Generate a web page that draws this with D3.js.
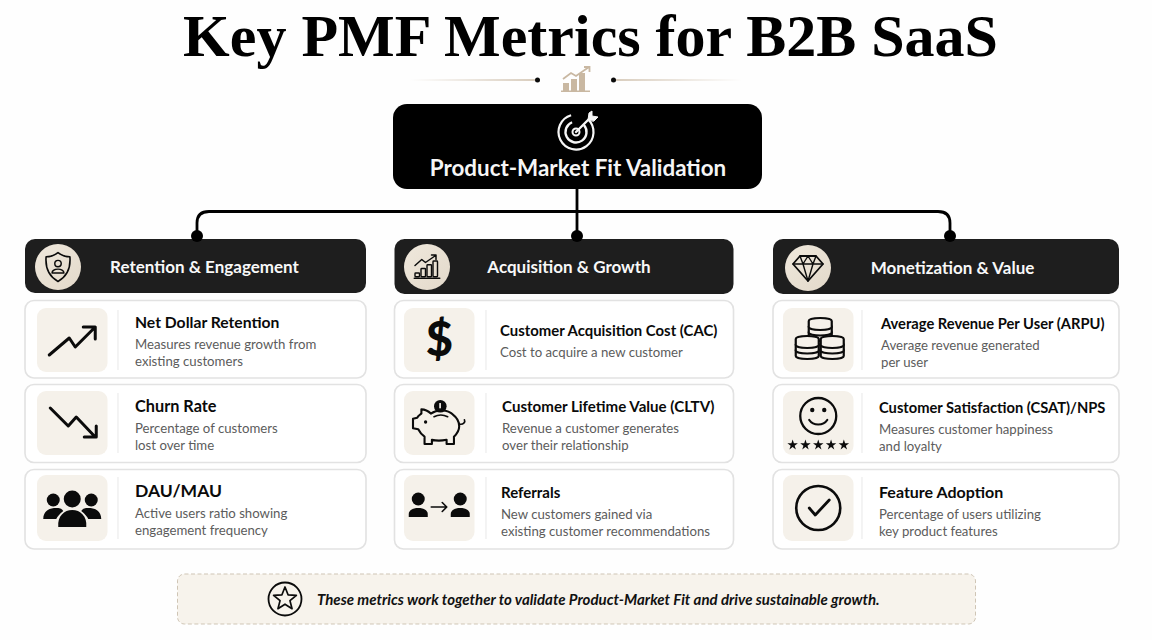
<!DOCTYPE html>
<html>
<head>
<meta charset="utf-8">
<script src="https://cdn.jsdelivr.net/npm/d3@7"></script>
<style>
  html, body { margin: 0; padding: 0; background: #fefefe; }
  svg { display: block; }
  text { font-family: Lato, sans-serif; }
</style>
</head>
<body>
<svg id="chart" width="1152" height="640"></svg>
<script>
const chartTitle = "Key PMF Metrics for B2B SaaS";
const rootLabel = "Product-Market Fit Validation";
const footerNote = "These metrics work together to validate Product-Market Fit and drive sustainable growth.";

const categories = ["Retention & Engagement", "Acquisition & Growth", "Monetization & Value"];
const metricNames = [
  ["Net Dollar Retention", "Churn Rate", "DAU/MAU"],
  ["Customer Acquisition Cost (CAC)", "Customer Lifetime Value (CLTV)", "Referrals"],
  ["Average Revenue Per User (ARPU)", "Customer Satisfaction (CSAT)/NPS", "Feature Adoption"]
];
const metricDescriptions = [
  [["Measures revenue growth from", "existing customers"], ["Percentage of customers", "lost over time"], ["Active users ratio showing", "engagement frequency"]],
  [["Cost to acquire a new customer"], ["Revenue a customer generates", "over their relationship"], ["New customers gained via", "existing customer recommendations"]],
  [["Average revenue generated", "per user"], ["Measures customer happiness", "and loyalty"], ["Percentage of users utilizing", "key product features"]]
];

// layout
const columns = [
  {x0: 25, x1: 366, hy0: 239, hy1: 293, cx: 58, cy: 267, labelX: 204.5, dot: 197, tileX: 37, divX: 118, textX: [135, 135, 135], titleY: [328, 412, 497], titleSize: [15.7, 16.3, 17.5]},
  {x0: 394.5, x1: 733.5, hy0: 239, hy1: 294, cx: 427, cy: 267, labelX: 569, dot: 577, tileX: 404, divX: 486, textX: [500, 502, 501], titleY: [336, 412, 498], titleSize: [14.9, 15.1, 15]},
  {x0: 773, x1: 1119, hy0: 239, hy1: 294, cx: 808, cy: 268, labelX: 952.5, dot: 950, tileX: 783, divX: 862, textX: [881, 879, 879], titleY: [329, 413, 498], titleSize: [14.7, 14.7, 16]}
];
const rows = [
  {y0: 300.5, y1: 378, tile0: 308, tile1: 372},
  {y0: 384.5, y1: 462.5, tile0: 391, tile1: 455},
  {y0: 469.5, y1: 549, tile0: 475, tile1: 541}
];

const INK = "#0b0b0b", TAN = "#c9b8a2", TILE = "#f5f1ea", HEAD = "#1e1e1e";
const svg = d3.select("#chart");

// soft fade for the ornament lines
const defs = svg.append("defs");
[["fadeL", 0, 1], ["fadeR", 1, 0]].forEach(([id, a, b]) => {
  const g = defs.append("linearGradient").attr("id", id);
  g.append("stop").attr("offset", "0%").attr("stop-color", TAN).attr("stop-opacity", a);
  g.append("stop").attr("offset", "100%").attr("stop-color", TAN).attr("stop-opacity", b);
});
const discGrad = defs.append("linearGradient").attr("id", "disc").attr("x1", 0).attr("y1", 0).attr("x2", 1).attr("y2", 1);
discGrad.append("stop").attr("offset", "0%").attr("stop-color", "#efe8dc");
discGrad.append("stop").attr("offset", "100%").attr("stop-color", "#e3d9ca");

// title
svg.append("text").attr("x", 590.5).attr("y", 56).attr("text-anchor", "middle")
  .style("font-family", '"Liberation Serif", serif').style("font-weight", 700).style("font-size", "60px")
  .attr("fill", "#000").text(chartTitle);

// ornament under the title
svg.append("rect").attr("x", 410).attr("y", 79.3).attr("width", 126).attr("height", 1.4).attr("fill", "url(#fadeL)");
svg.append("rect").attr("x", 614).attr("y", 79.3).attr("width", 128).attr("height", 1.4).attr("fill", "url(#fadeR)");
svg.append("circle").attr("cx", 537.5).attr("cy", 80).attr("r", 2.5).attr("fill", INK);
svg.append("circle").attr("cx", 613.5).attr("cy", 80).attr("r", 2.5).attr("fill", INK);
const orn = svg.append("g").attr("transform", "translate(576,80)");
orn.selectAll("rect").data([[-13, 3, 6], [-5, -1, 6], [3, -7, 6]]).join("rect")
  .attr("x", d => d[0]).attr("y", d => d[1]).attr("width", d => d[2]).attr("height", d => 11 - d[1]).attr("fill", TAN);
orn.append("rect").attr("x", -15).attr("y", 10.5).attr("width", 29).attr("height", 1.5).attr("fill", TAN);
orn.append("path").attr("d", "M-13,-1L-5,-7L0,-4L13,-13M8,-13H13.5V-8").attr("fill", "none").attr("stroke", TAN).attr("stroke-width", 1.8);

// connector lines
const elbow = d3.path();
elbow.moveTo(197, 236); elbow.lineTo(197, 223);
elbow.quadraticCurveTo(197, 211.5, 209, 211.5);
elbow.lineTo(938, 211.5);
elbow.quadraticCurveTo(950, 211.5, 950, 223);
elbow.lineTo(950, 236);
elbow.moveTo(577, 185); elbow.lineTo(577, 236);
svg.append("path").attr("d", elbow.toString()).attr("fill", "none").attr("stroke", "#000").attr("stroke-width", 2.8);

// root box
svg.append("rect").attr("x", 393).attr("y", 104).attr("width", 369).attr("height", 85).attr("rx", 14).attr("fill", "#000");
svg.append("text").attr("x", 578).attr("y", 176).attr("text-anchor", "middle")
  .style("font-weight", 700).style("font-size", "22.4px").attr("fill", "#f6f6f6").text(rootLabel);
const target = svg.append("g").attr("transform", "translate(576,132)")
  .attr("fill", "none").attr("stroke", "#f6f6f6").attr("stroke-linecap", "round");
target.append("path").attr("d", d3.arc()({innerRadius: 17.5, outerRadius: 17.5, startAngle: 0.75, endAngle: 6.0})).attr("stroke-width", 2.2);
target.append("path").attr("d", d3.arc()({innerRadius: 10.5, outerRadius: 10.5, startAngle: 0.85, endAngle: 5.9})).attr("stroke-width", 2.4);
target.append("circle").attr("r", 3.5).attr("stroke-width", 2);
target.append("path").attr("d", "M0,0L14,-14").attr("stroke-width", 2.4);
target.append("path").attr("d", "M12,-12L13,-19L16,-21L16,-16L22,-15L18,-11Z").attr("fill", "#f6f6f6").attr("stroke-width", 1);

// icons, each drawn around its own centre
const line = (g, d, w) => g.append("path").attr("d", d).attr("fill", "none").attr("stroke", INK)
  .attr("stroke-width", w).attr("stroke-linejoin", "round").attr("stroke-linecap", "round");
const solid = (g, d) => g.append("path").attr("d", d).attr("fill", INK);
const dot = (g, x, y, r) => g.append("circle").attr("cx", x).attr("cy", y).attr("r", r).attr("fill", INK);

const headerIcons = [
  g => {
    g.attr("transform", g.attr("transform") + " scale(0.85)");
    line(g, "M0,-17C5,-13 11,-12 14,-12C15,0 11,11 0,17C-11,11 -15,0 -14,-12C-11,-12 -5,-13 0,-17Z", 1.9);
    g.append("circle").attr("cy", -4).attr("r", 3.8).attr("fill", "none").attr("stroke", INK).attr("stroke-width", 1.7);
    line(g, "M-7,7C-7,1 7,1 7,7Z", 1.7);
  },
  g => {
    g.attr("transform", g.attr("transform") + " scale(0.75)");
    line(g, "M-17,15H17", 2);
    [[-16, 8], [-8, 2], [0, -3], [8, -8]].forEach(([x, y]) => {
      g.append("rect").attr("x", x).attr("y", y).attr("width", 6).attr("height", 13 - y).attr("rx", 1)
        .attr("fill", "none").attr("stroke", INK).attr("stroke-width", 1.9);
    });
    line(g, "M-16,-2L-7,-10L-2,-6L11,-15M6,-16H12V-10", 2);
  },
  g => {
    line(g, "M-8,-12H8L15,-4L0,13L-15,-4Z", 1.8);
    line(g, "M-15,-4H15M-8,-12L-5,-4L0,13L5,-4L8,-12M-5,-4L0,-12L5,-4", 1.4);
  }
];

const coin = (g, x, y, n) => {
  for (let i = n - 1; i >= 0; i--) {
    const cy = y + i * 5.5;
    g.append("path").attr("d", `M${x - 11.5},${cy - 3}C${x - 11.5},${cy - 7} ${x + 11.5},${cy - 7} ${x + 11.5},${cy - 3}V${cy + 3}C${x + 11.5},${cy + 7} ${x - 11.5},${cy + 7} ${x - 11.5},${cy + 3}Z`)
      .attr("fill", TILE).attr("stroke", INK).attr("stroke-width", 2.2);
  }
};

const tileIcons = [
  [
    g => { line(g, "M-23,15L-3,-2L3,7L23,-13M11,-13H23V-1", 3); },
    g => { line(g, "M-22,-15L-4,3L4,-6L23,14M12,14H24V3", 3); },
    g => {
      dot(g, 0, -9, 8.5); dot(g, -19, -8, 6.5); dot(g, 19, -8, 6.5);
      solid(g, "M-29,11C-29,3 -23,0 -16,0C-12,0 -10,1 -9,3C-13,6 -15,9 -16,11Z");
      solid(g, "M29,11C29,3 23,0 16,0C12,0 10,1 9,3C13,6 15,9 16,11Z");
      solid(g, "M-14,19C-15,8 -8,2 0,2C8,2 15,8 14,19Z");
    }
  ],
  [
    g => {
      g.append("text").attr("y", 16).attr("text-anchor", "middle").style("font-size", "47px").style("font-weight", 900)
        .attr("fill", INK).text("$");
    },
    g => {
      g.attr("transform", g.attr("transform") + " scale(1.05)");
      line(g, "M-17,-13C-13,-13 -10,-11 -8,-9C-2,-13 8,-13 13,-8C17,-5 19,-1 19,3C19,8 16,11 14,13V20H7V16C2,17 -3,17 -7,16V20H-14V13C-17,11 -19,8 -20,6L-25,5V-4L-21,-5C-20,-7 -18,-8 -17,-9Z", 2);
      line(g, "M19,1C23,2 25,-1 24,-3M-5,-6C-1,-8 4,-8 8,-6", 1.6);
      dot(g, -13, -1, 1.6);
      dot(g, 1, -16, 6);
      g.append("rect").attr("x", 0).attr("y", -19).attr("width", 1.6).attr("height", 5).attr("fill", TILE);
    },
    g => {
      [-21, 21].forEach(x => {
        dot(g, x, -9, 6.5);
        solid(g, `M${x - 9.5},9V6C${x - 9.5},-2 ${x + 9.5},-2 ${x + 9.5},6V9Z`);
      });
      line(g, "M-8,-1H7M3,-5.5L7.5,-1L3,3.5", 1.6);
    }
  ],
  [
    g => {
      coin(g, 2, -16, 3); coin(g, -11, 2, 3); coin(g, 14, 2, 3);
    },
    g => {
      g.append("circle").attr("cy", -7).attr("r", 18).attr("fill", "none").attr("stroke", INK).attr("stroke-width", 2.3);
      dot(g, -6, -13, 2.2); dot(g, 6, -13, 2.2);
      line(g, "M-9,-3C-5,3 5,3 9,-3", 2.2);
      g.selectAll(".star").data(d3.range(5)).join("path").attr("class", "star")
        .attr("transform", i => `translate(${(i - 2) * 12.8},22)`)
        .attr("d", d3.symbol(d3.symbolStar, 34)).attr("fill", INK);
    },
    g => {
      g.append("circle").attr("r", 22).attr("fill", "none").attr("stroke", INK).attr("stroke-width", 2.6);
      line(g, "M-9,0L-3,7L11,-8", 2.8);
    }
  ]
];

// columns
const col = svg.selectAll("g.col").data(categories).join("g").attr("class", "col");
col.each(function(name, c) {
  const g = d3.select(this), L = columns[c];
  g.append("rect").attr("x", L.x0).attr("y", L.hy0).attr("width", L.x1 - L.x0).attr("height", L.hy1 - L.hy0).attr("rx", 10).attr("fill", HEAD);
  g.append("circle").attr("cx", L.dot).attr("cy", 236).attr("r", 6).attr("fill", "#000");
  g.append("circle").attr("cx", L.cx).attr("cy", L.cy).attr("r", 23).attr("fill", "url(#disc)");
  headerIcons[c](g.append("g").attr("transform", `translate(${L.cx},${L.cy})`));
  g.append("text").attr("x", L.labelX).attr("y", L.cy + 6).attr("text-anchor", "middle")
    .style("font-weight", 700).style("font-size", "17px").attr("fill", "#f8f8f8").text(name);

  metricNames[c].forEach((metric, r) => {
    const R = rows[r], tileW = 70.5;
    g.append("rect").attr("x", L.x0).attr("y", R.y0).attr("width", L.x1 - L.x0).attr("height", R.y1 - R.y0).attr("rx", 9)
      .attr("fill", "#fff").attr("stroke", "#e2e2e2").attr("stroke-width", 1.6);
    g.append("rect").attr("x", L.tileX).attr("y", R.tile0).attr("width", tileW).attr("height", R.tile1 - R.tile0).attr("rx", 9).attr("fill", TILE);
    g.append("line").attr("x1", L.divX).attr("x2", L.divX).attr("y1", R.tile0 + 2).attr("y2", R.tile1 - 2).attr("stroke", "#ececec").attr("stroke-width", 1.2);
    tileIcons[c][r](g.append("g").attr("transform", `translate(${L.tileX + tileW / 2},${(R.tile0 + R.tile1) / 2})`));

    const titleY = L.titleY[r];
    g.append("text").attr("x", L.textX[r]).attr("y", titleY).style("font-weight", 700).style("font-size", L.titleSize[r] + "px")
      .attr("fill", "#0a0a0a").text(metric);
    metricDescriptions[c][r].forEach((d, i) => {
      g.append("text").attr("x", L.textX[r]).attr("y", titleY + 21 + i * 16.7).style("font-size", "13.2px")
        .attr("fill", "#5c5c5c").text(d);
    });
  });
});

// footer
svg.append("rect").attr("x", 177.5).attr("y", 574).attr("width", 798).attr("height", 50).attr("rx", 7)
  .attr("fill", "#f7f3ec").attr("stroke", "#cfc5b5").attr("stroke-width", 1).attr("stroke-dasharray", "4 2.5");
const starG = svg.append("g").attr("transform", "translate(285,599)");
starG.append("circle").attr("r", 16.5).attr("fill", "none").attr("stroke", INK).attr("stroke-width", 1.8);
const starPts = d3.range(10).map(i => d3.pointRadial(i * Math.PI / 5, i % 2 ? 5.2 : 12));
starG.append("path").attr("d", d3.line().curve(d3.curveLinearClosed)(starPts)).attr("fill", "none").attr("stroke", INK)
  .attr("stroke-width", 1.7).attr("stroke-linejoin", "round");
svg.append("text").attr("x", 317).attr("y", 605).style("font-weight", 700).style("font-style", "italic").style("font-size", "15px")
  .attr("fill", "#111").text(footerNote);
</script>
</body>
</html>
